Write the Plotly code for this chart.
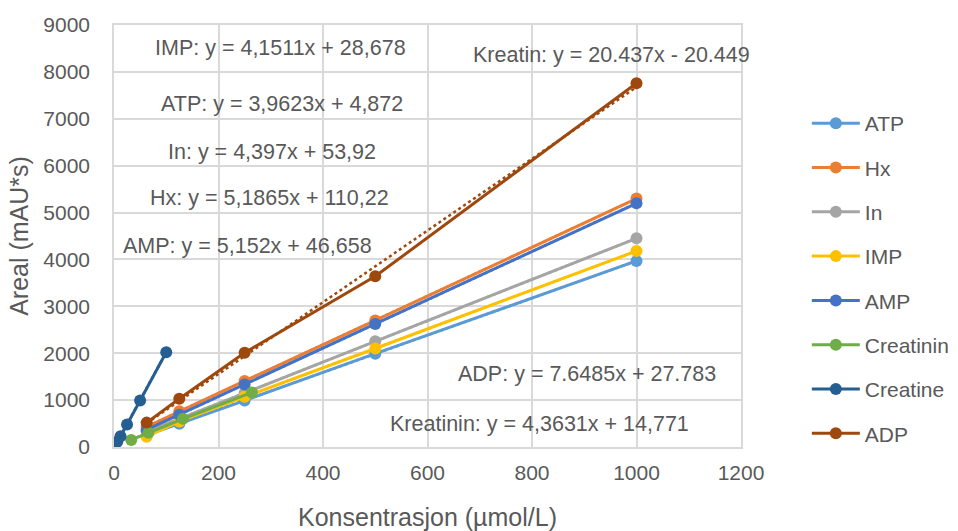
import plotly.graph_objects as go

# Concentrations (µmol/L)
conc_std = [62.5, 125, 250, 500, 1000]
conc_creatinin = [33, 66, 132, 264]
conc_creatine = [6.25, 12.5, 25, 50, 100]

# Peak areas (mAU*s)
atp = [255, 495, 990, 1990, 3968]
hx = [430, 760, 1410, 2700, 5298]
inosine = [330, 600, 1150, 2255, 4450]
imp = [220, 545, 1070, 2100, 4180]
amp = [370, 690, 1335, 2625, 5198]
creatinin = [150, 305, 600, 1164]
creatine = [110, 230, 480, 990, 2020]
adp = [520, 1030, 2010, 3640, 7758]

series_names = ["ATP", "Hx", "In", "IMP", "AMP", "Creatinin", "Creatine", "ADP"]
series_x = [conc_std, conc_std, conc_std, conc_std, conc_std,
            conc_creatinin, conc_creatine, conc_std]
series_y = [atp, hx, inosine, imp, amp, creatinin, creatine, adp]
colors = ["#5B9BD5", "#ED7D31", "#A5A5A5", "#FFC000", "#4472C4",
          "#70AD47", "#255E91", "#9E480E"]

# Linear trendline coefficients (slope, intercept)
slopes = [3.9623, 5.1865, 4.397, 4.1511, 5.152, 4.3631, 20.437, 7.6485]
intercepts = [4.872, 110.22, 53.92, 28.678, 46.658, 14.771, -20.449, 27.783]

# Equation labels
eq_labels = [
    "IMP: y = 4,1511x + 28,678",
    "Kreatin: y = 20.437x - 20.449",
    "ATP: y = 3,9623x + 4,872",
    "In: y = 4,397x + 53,92",
    "Hx: y = 5,1865x + 110,22",
    "AMP: y = 5,152x + 46,658",
    "ADP: y = 7.6485x + 27.783",
    "Kreatinin: y = 4,3631x + 14,771",
]
eq_pos = [(318, 8510), (953, 8360), (322, 7315), (303, 6290),
          (298, 5310), (255, 4290), (905, 1557), (815, 490)]

FONT = "Liberation Sans"
GREY = "#595959"
GRID = "#D9D9D9"

fig = go.Figure()

# dotted trendlines across each series' concentration range
for xs, m, b, c in zip(series_x, slopes, intercepts, colors):
    x0, x1 = min(xs), max(xs)
    fig.add_trace(go.Scatter(
        x=[x0, x1], y=[m * x0 + b, m * x1 + b], mode="lines",
        line=dict(color=c, width=2.5, dash="dot"),
        showlegend=False, hoverinfo="skip"))

for name, xs, ys, c in zip(series_names, series_x, series_y, colors):
    fig.add_trace(go.Scatter(
        x=xs, y=ys, name=name, mode="lines+markers",
        line=dict(color=c, width=3),
        marker=dict(color=c, size=12),
        legendgroup=name))

for text, (ax, ay) in zip(eq_labels, eq_pos):
    fig.add_annotation(x=ax, y=ay, text=text, showarrow=False,
                       xanchor="center", yanchor="middle",
                       font=dict(family=FONT, size=21.5, color=GREY))

fig.update_layout(
    width=958, height=531,
    margin=dict(l=114, r=217, t=25, b=84, autoexpand=False),
    paper_bgcolor="white", plot_bgcolor="white",
    font=dict(family=FONT, size=21, color=GREY),
    legend=dict(x=1.105, y=0.815, xanchor="left", yanchor="top",
                tracegroupgap=14, itemwidth=48,
                font=dict(family=FONT, size=21, color=GREY)),
    xaxis=dict(range=[0, 1200], dtick=200, showgrid=True, gridcolor=GRID,
               gridwidth=1.5, zeroline=False, showline=True, linecolor=GRID,
               linewidth=1.5, mirror=True, ticks="", ticklen=0,
               ticklabelstandoff=6, automargin=False,
               tickfont=dict(size=21, color=GREY),
               title=dict(text="Konsentrasjon (µmol/L)", standoff=26,
                          font=dict(size=25, color=GREY))),
    yaxis=dict(range=[0, 9000], dtick=1000, showgrid=True, gridcolor=GRID,
               gridwidth=1.5, zeroline=False, showline=True, linecolor=GRID,
               linewidth=1.5, mirror=True, ticks="", ticklen=0,
               ticklabelstandoff=18, automargin=False,
               tickfont=dict(size=21, color=GREY),
               title=dict(text="Areal (mAU*s)", standoff=8,
                          font=dict(size=25, color=GREY))),
)

fig.write_html("out.html")
